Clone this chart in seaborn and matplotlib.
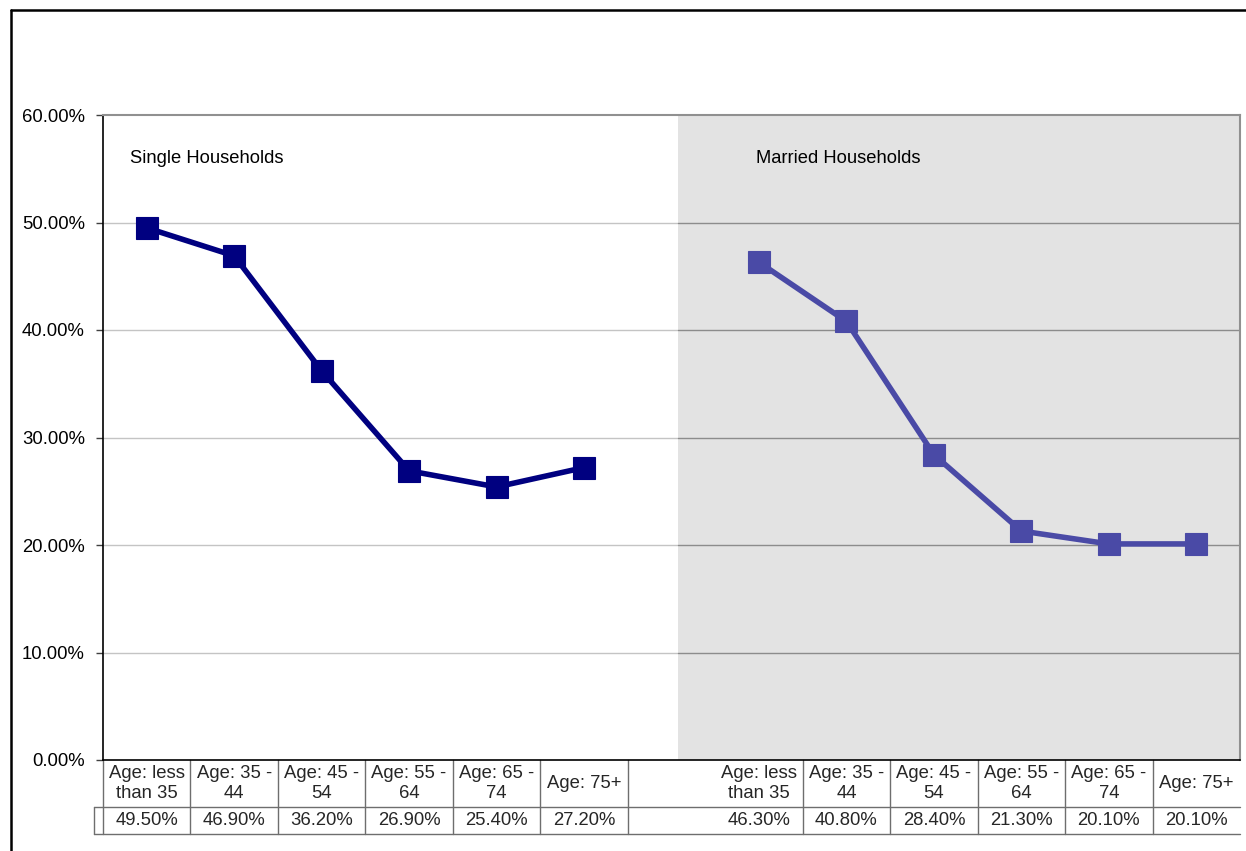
import matplotlib
matplotlib.use("Agg")
import matplotlib.pyplot as plt
import matplotlib.transforms as mtransforms
import seaborn as sns
import pandas as pd
from matplotlib.ticker import FuncFormatter
from matplotlib.lines import Line2D

# ---- data ----
age_groups = ["Age: less\nthan 35", "Age: 35 -\n44", "Age: 45 -\n54",
              "Age: 55 -\n64", "Age: 65 -\n74", "Age: 75+"]
single_values = [0.495, 0.469, 0.362, 0.269, 0.254, 0.272]
married_values = [0.463, 0.408, 0.284, 0.213, 0.201, 0.201]
single_label = "Single Households"
married_label = "Married Households"
y_ticks = [0.0, 0.1, 0.2, 0.3, 0.4, 0.5, 0.6]

# categories: 6 single, 1 blank, 6 married
categories = age_groups + [""] + age_groups
n_cat = len(categories)
single_pos = list(range(0, 6))
married_pos = list(range(7, 13))

df_single = pd.DataFrame({"pos": single_pos, "value": single_values})
df_married = pd.DataFrame({"pos": married_pos, "value": married_values})

sns.set_theme(style="white")
plt.rcParams["font.family"] = ["Liberation Sans", "DejaVu Sans"]

fig = plt.figure(figsize=(12.46, 8.51), dpi=100)
W, H = 1246, 851
ax = fig.add_axes([103 / W, 1 - 760 / H, (1240 - 103) / W, (760 - 115) / H])

ax.set_xlim(-0.5, n_cat - 0.5)
ax.set_ylim(0, 0.6)

# gray shaded region for married households
ax.axvspan(6.07, n_cat - 0.5, facecolor="#e3e3e3", edgecolor="none", zorder=0)

# gridlines
for yv in y_ticks[1:-1]:
    ax.plot([-0.5, 6.07], [yv, yv], color="#c4c4c4", lw=1, zorder=1)
    ax.plot([6.07, n_cat - 0.5], [yv, yv], color="#8c8c8c", lw=1, zorder=1)

navy = "#000080"
married_col = "#4a4aa6"
sns.lineplot(data=df_single, x="pos", y="value", ax=ax, color=navy, lw=4.0,
             marker="s", markersize=16, markeredgecolor=navy, markeredgewidth=0.8,
             zorder=3)
sns.lineplot(data=df_married, x="pos", y="value", ax=ax, color=married_col, lw=4.0,
             marker="s", markersize=16, markeredgecolor=married_col, markeredgewidth=0.8,
             zorder=3)

ax.set_xlabel("")
ax.set_ylabel("")
ax.set_xticks([])
ax.set_yticks(y_ticks)
ax.yaxis.set_major_formatter(FuncFormatter(lambda v, p: f"{v * 100:.2f}%"))
ax.tick_params(axis="y", which="major", length=5, width=1, color="#404040",
               pad=8, labelsize=13.3, labelcolor="black", left=True)

for side in ["top", "right"]:
    ax.spines[side].set_color("#909090")
    ax.spines[side].set_linewidth(1.5)
ax.spines["left"].set_color("black")
ax.spines["left"].set_linewidth(1.2)
ax.spines["bottom"].set_color("black")
ax.spines["bottom"].set_linewidth(1.2)

ax.text(0.0237, 0.933, single_label, transform=ax.transAxes, fontsize=13.2,
        ha="left", va="center", color="black")
ax.text(0.574, 0.933, married_label, transform=ax.transAxes, fontsize=13.2,
        ha="left", va="center", color="black")

# ---- data table under plot ----
trans = mtransforms.blended_transform_factory(ax.transData, ax.transAxes)
ah = 760 - 115
r1 = -(807 - 760) / ah
r2 = -(834 - 760) / ah
left_ext = -0.5 - (103 - 94) / ((1240 - 103) / n_cat)
line_kw = dict(color="#6e6e6e", lw=1, transform=trans, clip_on=False)
ax.add_line(Line2D([left_ext, n_cat - 0.5], [r1, r1], **line_kw))
ax.add_line(Line2D([left_ext, n_cat - 0.5], [r2, r2], **line_kw))
ax.add_line(Line2D([left_ext, left_ext], [r1, r2], **line_kw))
for i in range(n_cat):
    b = i - 0.5
    if i == 7:
        continue
    ax.add_line(Line2D([b, b], [0, r2], **line_kw))

values_row = [f"{v * 100:.2f}%" for v in single_values] + [""] + \
             [f"{v * 100:.2f}%" for v in married_values]
for i, (cat, val) in enumerate(zip(categories, values_row)):
    ax.text(i, r1 / 2, cat, transform=trans, ha="center", va="center",
            fontsize=13.3, linespacing=1.3, clip_on=False)
    ax.text(i, (r1 + r2) / 2, val, transform=trans, ha="center", va="center",
            fontsize=13.3, clip_on=False)

# outer chart border (extends past image edge)
fig.add_artist(Line2D([11 / W, 11 / W], [1 - 10 / H, -0.1], color="black", lw=1.8,
                      transform=fig.transFigure))
fig.add_artist(Line2D([11 / W, 1.1], [1 - 10 / H, 1 - 10 / H], color="black", lw=1.8,
                      transform=fig.transFigure))

fig.savefig("out.png", dpi=100)
